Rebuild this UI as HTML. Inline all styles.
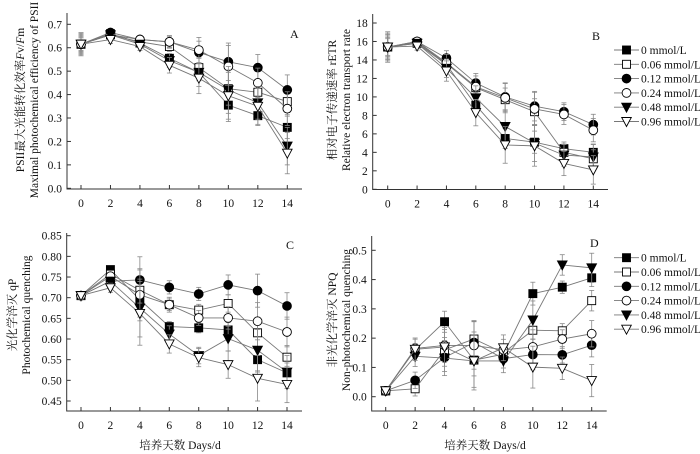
<!DOCTYPE html>
<html><head><meta charset="utf-8">
<style>
body{margin:0;background:#fff;}
svg{display:block;font-family:"Liberation Serif","Noto Serif CJK SC",serif;}
</style></head>
<body>
<svg id="c" width="700" height="454" viewBox="0 0 700 454"></svg>
<script>
const days=[0,2,4,6,8,10,12,14];
const seriesNames=["0 mmol/L","0.06 mmol/L","0.12 mmol/L","0.24 mmol/L","0.48 mmol/L","0.96 mmol/L"];
// Panel A Fv/Fm
const aS0=[.615,.66,.62,.555,.495,.355,.31,.26];
const aS1=[.615,.655,.625,.605,.515,.425,.41,.37];
const aS2=[.615,.665,.635,.625,.58,.54,.515,.42];
const aS3=[.615,.655,.635,.625,.59,.52,.45,.34];
const aS4=[.615,.655,.615,.545,.495,.42,.365,.18];
const aS5=[.615,.635,.605,.525,.47,.395,.35,.15];
const aErr=[.045,.015,.015,.03,.06,.1,.07,.08];
const aTicks=[0,0.1,0.2,0.3,0.4,0.5,0.6,0.7];
// Panel B rETR
const bS0=[15.4,15.8,13.5,9.1,5.5,5.1,4.4,4.0];
const bS1=[15.4,15.9,13.6,11,9.7,8.4,4.0,3.3];
const bS2=[15.4,16,14.2,11.5,10,9,8.4,7];
const bS3=[15.4,16,13.7,11.1,9.9,8.7,8.1,6.4];
const bS4=[15.4,15.8,13.1,9.9,6.8,5,3.7,3.5];
const bS5=[15.4,15.5,12.8,8.3,4.8,4.7,2.8,2.1];
const bErr=[1.5,.4,1,1.3,1.8,2,1.2,1.4];
const bTicks=[0,2,4,6,8,10,12,14,16,18];
// Panel C qP
const cS0=[.705,.768,.695,.630,.627,.622,.55,.518];
const cS1=[.705,.757,.718,.683,.670,.686,.615,.556];
const cS2=[.705,.740,.743,.725,.709,.731,.717,.680];
const cS3=[.705,.752,.707,.683,.651,.651,.643,.617];
const cS4=[.705,.740,.675,.612,.560,.601,.573,.520];
const cS5=[.705,.724,.662,.588,.555,.538,.505,.490];
const cErr=[.008,.01,.07,.02,.02,.03,.05,.04];
const cTicks=[0.45,0.5,0.55,0.6,0.65,0.7,0.75,0.8,0.85];
// Panel D NPQ
const dS0=[.02,.16,.256,.125,.145,.352,.374,.406];
const dS1=[.02,.027,.16,.197,.15,.227,.225,.328];
const dS2=[.02,.056,.134,.185,.13,.144,.143,.176];
const dS3=[.02,.165,.175,.175,.16,.17,.197,.215];
const dS4=[.02,.138,.132,.122,.122,.262,.45,.44];
const dS5=[.02,.162,.17,.122,.167,.101,.097,.055];
const dErr=[.01,.035,.06,.09,.04,.065,.035,.05];
const dTicks=[0,0.1,0.2,0.3,0.4,0.5];

const NS="http://www.w3.org/2000/svg";
const svg=document.getElementById('c');
function el(tag,attrs,parent){const e=document.createElementNS(NS,tag);for(const k in attrs)e.setAttribute(k,attrs[k]);(parent||svg).appendChild(e);return e;}
function txt(s,attrs,parent){const t=el('text',attrs,parent);t.textContent=s;return t;}

function marker(g,type,x,y){
  const s=4;let m;
  const fill=(type%2===0)?'#000':'#fff';
  if(type<2) m=el('rect',{x:x-s,y:y-s,width:2*s,height:2*s,fill:fill,stroke:'#000','stroke-width':0.9},g);
  else if(type<4) m=el('circle',{cx:x,cy:y,r:s+0.4,fill:fill,stroke:'#000','stroke-width':0.9},g);
  else m=el('polygon',{points:`${x-s-0.8},${y-s} ${x+s+0.8},${y-s} ${x},${y+s+1}`,fill:fill,stroke:'#000','stroke-width':0.9},g);
  return m;
}

function panel(o){
  const g=el('g',{});
  
  
  const sx=d=>o.x0+(o.x14-o.x0)*d/14;
  const sy=v=>o.yb+(o.yt-o.yb)*(v-o.vb)/(o.vt-o.vb);
  const ax=el('path',{d:`M${o.axX},${o.top} V${o.axY} H${o.right}`,fill:'none',stroke:'#333','stroke-width':1},g);
  
  
  o.ticks.forEach(t=>{
    const y=sy(t);
    el('line',{x1:o.axX,x2:o.axX+4,y1:y,y2:y,stroke:'#333','stroke-width':1},g);
    const lb=txt(o.fmt(t),{x:o.axX-5,y:y+4,'font-size':11.5,'text-anchor':'end',fill:'#111'},g);
    
    
  });
  days.forEach(d=>{
    const x=sx(d);
    el('line',{x1:x,x2:x,y1:o.axY,y2:o.axY-4,stroke:'#333','stroke-width':1},g);
    const lb=txt(String(d),{x:x,y:o.axY+18,'font-size':11.5,'text-anchor':'middle',fill:'#111'},g);
    
    
  });
  o.series.forEach((vals,i)=>{
    const sg=el('g',{},g);
    
    
    vals.forEach((v,j)=>{
      const x=sx(days[j]),e=o.err[j]*(0.6+0.1*i);
      el('line',{x1:x,x2:x,y1:sy(v-e),y2:sy(v+e),stroke:'#888','stroke-width':0.8},sg);
      el('line',{x1:x-2.5,x2:x+2.5,y1:sy(v-e),y2:sy(v-e),stroke:'#888','stroke-width':0.8},sg);
      el('line',{x1:x-2.5,x2:x+2.5,y1:sy(v+e),y2:sy(v+e),stroke:'#888','stroke-width':0.8},sg);
    });
    el('polyline',{points:vals.map((v,j)=>sx(days[j])+','+sy(v)).join(' '),fill:'none',stroke:'#777','stroke-width':0.9},sg);
    vals.forEach((v,j)=>{
      const m=marker(sg,i,sx(days[j]),sy(v));
      
      
    });
  });
  const L=txt(o.letter,{x:o.lx,y:o.ly,'font-size':12,fill:'#111'},g);
  
  
  o.ylab.forEach((s,k)=>{
    const t=el('text',{x:0,y:0,'font-size':11.5,'text-anchor':'middle',fill:'#111',transform:`translate(${o.ylx[k]},${o.lyc}) rotate(-90)`},g);
    t.innerHTML=s;
    
    
  });
}
panel({name:'panel-a',x0:81,x14:287.3,yb:188.3,yt:24.3,vb:0,vt:0.7,axX:67,axY:189,top:13,right:302,ticks:aTicks,fmt:v=>v.toFixed(1),series:[aS0,aS1,aS2,aS3,aS4,aS5],err:aErr,letter:'A',lx:290,ly:38,ylab:['PSII最大光能转化效率<tspan font-style="italic">F</tspan>v/<tspan font-style="italic">F</tspan>m','Maximal photochemical efficiency of PSII'],ylx:[24,38],lyc:100});
panel({name:'panel-b',x0:387.7,x14:593.3,yb:189.3,yt:23,vb:0,vt:18,axX:372.7,axY:189.5,top:14,right:608,ticks:bTicks,fmt:v=>String(v),series:[bS0,bS1,bS2,bS3,bS4,bS5],err:bErr,letter:'B',lx:592,ly:40,ylab:['相对电子传递速率 rETR','Relative electron transport rate'],ylx:[336,350],lyc:100});
panel({name:'panel-c',x0:81,x14:287,yb:401,yt:235.7,vb:0.45,vt:0.85,axX:66.7,axY:411,top:233,right:302,ticks:cTicks,fmt:v=>v.toFixed(2),series:[cS0,cS1,cS2,cS3,cS4,cS5],err:cErr,letter:'C',lx:286,ly:249,ylab:['光化学淬灭 qP','Photochemical quenching'],ylx:[16,30],lyc:315});
panel({name:'panel-d',x0:385.7,x14:591.7,yb:396.7,yt:250.3,vb:0,vt:0.5,axX:371.7,axY:411,top:236,right:606.7,ticks:dTicks,fmt:v=>v.toFixed(1),series:[dS0,dS1,dS2,dS3,dS4,dS5],err:dErr,letter:'D',lx:590,ly:247,ylab:['非光化学淬灭 NPQ','Non-photochemical quenching'],ylx:[336,350],lyc:320});

function legend(name,y0){
  const g=el('g',{});
  
  
  seriesNames.forEach((s,i)=>{
    const y=y0+i*14.3;
    const e=el('g',{},g);
    
    
    el('line',{x1:614,x2:639,y1:y,y2:y,stroke:'#777','stroke-width':0.9},e);
    marker(e,i,626.5,y);
    txt(s,{x:641,y:y+4,'font-size':11.5,fill:'#111'},e);
  });
}
legend('legend-b',50);
legend('legend-d',257.7);

[[180,'x-axis-title-c'],[485,'x-axis-title-d']].forEach(([x,n])=>{
  const t=txt('培养天数 Days/d',{x:x,y:449,'font-size':11.5,'text-anchor':'middle',fill:'#111'});
  
  
});
</script>
</body></html>
